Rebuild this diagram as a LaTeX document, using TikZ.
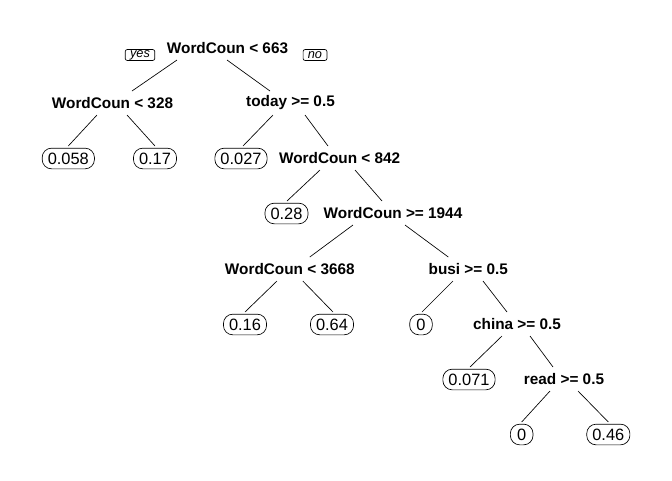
\documentclass[tikz,border=0pt]{standalone}
\usepackage{fontspec}
\setmainfont{Liberation Sans}
\usepackage{tikz}
\usetikzlibrary{
  arrows.meta,
  positioning,
  calc
}
\definecolor{xink}{RGB}{0,0,0}

\begin{document}
\begin{tikzpicture}[
  x=0.75pt, y=-0.75pt,
  split/.style={font=\fontsize{11.5}{13}\selectfont\bfseries, text=xink, inner sep=0pt},
  leaf/.style={draw=xink, line width=0.5pt, rounded corners=7pt,
               font=\fontsize{12.3}{14}\selectfont, text=xink,
               inner xsep=4.2pt, inner ysep=0pt, minimum width=17pt, minimum height=15.5pt},
  yesno/.style={draw=xink, line width=0.5pt, rounded corners=1.5pt,
                font=\fontsize{9.6}{11}\selectfont\itshape, text=xink,
                inner xsep=3.6pt, inner ysep=0pt, minimum height=8.2pt},
  branch/.style={draw=xink, line width=0.5pt}
]
  \useasboundingbox (0,0) rectangle (672,480);

  % splits
  \node[split] (root)   at (227.5,48) {WordCoun < 663};
  \node[split] (wc328)  at (112.5,103) {WordCoun < 328};
  \node[split] (today)  at (290.5,103) {today >= 0.5};
  \node[split] (wc842)  at (339.7,158) {WordCoun < 842};
  \node[split] (wc1944) at (393,213)   {WordCoun >= 1944};
  \node[split] (wc3668) at (289.8,269) {WordCoun < 3668};
  \node[split] (busi)   at (468.3,269) {busi >= 0.5};
  \node[split] (china)  at (517,324)   {china >= 0.5};
  \node[split] (read)   at (564,379)   {read >= 0.5};

  \node[yesno] (yes) at (140,55) {yes};
  \node[yesno] (no)  at (315,55) {no};

  % leaves
  \node[leaf] (lf058) at (68.3,158.5) {0.058};
  \node[leaf] (lf17)  at (155,158.5)  {0.17};
  \node[leaf] (lf027) at (241,158.5)  {0.027};
  \node[leaf] (lf28)  at (286.5,213.5) {0.28};
  \node[leaf] (lf16)  at (245,324.5)  {0.16};
  \node[leaf] (lf64)  at (332,324.5)  {0.64};
  \node[leaf] (lf0a)  at (421,324.5)  {0};
  \node[leaf] (lf071) at (469,379.5)  {0.071};
  \node[leaf] (lf0b)  at (521.7,434.5) {0};
  \node[leaf] (lf46)  at (608.3,434.5) {0.46};

  \draw[branch] ([shift={(-50.5,12)}]root.center)   -- ([shift={(19.5,-12)}]wc328.center);
  \draw[branch] ([shift={(-0.5,12)}]root.center)    -- ([shift={(-20.5,-12)}]today.center);
  \draw[branch] ([shift={(-15.5,12)}]wc328.center)  -- ([shift={(0,-12.5)}]lf058.center);
  \draw[branch] ([shift={(14.5,12)}]wc328.center)   -- ([shift={(0,-12.5)}]lf17.center);
  \draw[branch] ([shift={(-17.5,12)}]today.center)  -- ([shift={(2,-12.5)}]lf027.center);
  \draw[branch] ([shift={(14.5,12)}]today.center)   -- ([shift={(-11.7,-12)}]wc842.center);
  \draw[branch] ([shift={(-19.7,12)}]wc842.center)  -- ([shift={(0.5,-12.5)}]lf28.center);
  \draw[branch] ([shift={(15.3,12)}]wc842.center)   -- ([shift={(-11,-12)}]wc1944.center);
  \draw[branch] ([shift={(-40,12)}]wc1944.center)   -- ([shift={(20,-12)}]wc3668.center);
  \draw[branch] ([shift={(12,12)}]wc1944.center)    -- ([shift={(-20,-12)}]busi.center);
  \draw[branch] ([shift={(-12.8,12)}]wc3668.center) -- ([shift={(0,-12.5)}]lf16.center);
  \draw[branch] ([shift={(13,12)}]wc3668.center)    -- ([shift={(1,-12.5)}]lf64.center);
  \draw[branch] ([shift={(-15.3,12)}]busi.center)   -- ([shift={(1,-12.5)}]lf0a.center);
  \draw[branch] ([shift={(14.7,12)}]busi.center)    -- ([shift={(-10,-12)}]china.center);
  \draw[branch] ([shift={(-15,12)}]china.center)    -- ([shift={(1,-12.5)}]lf071.center);
  \draw[branch] ([shift={(13,12)}]china.center)     -- ([shift={(-11,-12)}]read.center);
  \draw[branch] ([shift={(-14,12)}]read.center)     -- ([shift={(0,-12.5)}]lf0b.center);
  \draw[branch] ([shift={(14,12)}]read.center)      -- ([shift={(0,-12.5)}]lf46.center);
\end{tikzpicture}
\end{document}
